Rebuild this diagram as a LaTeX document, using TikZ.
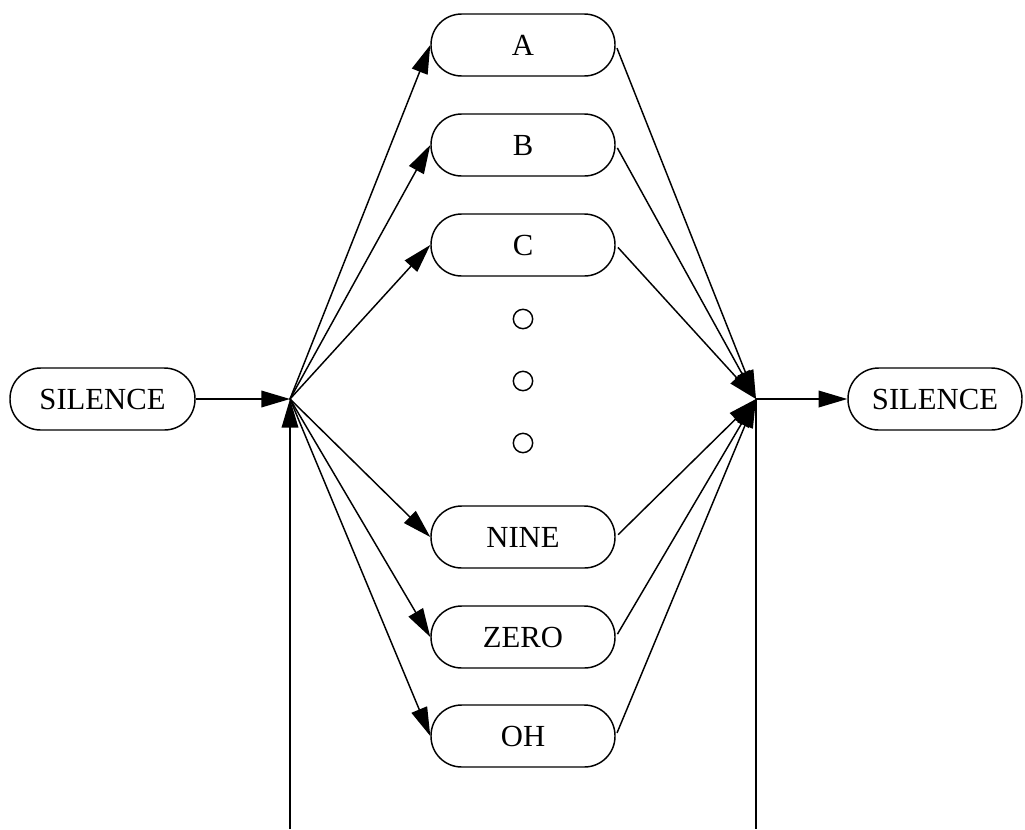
\documentclass[tikz,border=0pt]{standalone}
\usepackage{fontspec}
\setmainfont{Liberation Serif}
\usetikzlibrary{arrows.meta}
\begin{document}
\begin{tikzpicture}[x=0.75pt,y=-0.75pt,
  line width=1.1pt,
  word/.style={draw, rounded corners=23pt, minimum width=138pt, minimum height=46.5pt, inner sep=0pt, font=\fontsize{23}{26}\selectfont},
  dotc/.style={draw, circle, minimum size=14.5pt, inner sep=0pt, line width=1.1pt},
  arr/.style={-{Triangle[length=21.5pt,width=12.5pt]}},
]
\useasboundingbox (0,0) rectangle (1025,829);
\node[word] (A) at (523,45) {A};
\node[word] (B) at (523,145) {B};
\node[word] (C) at (523,245) {C};
\node[word] (NINE) at (523,537) {NINE};
\node[word] (ZERO) at (523,637) {ZERO};
\node[word] (OH) at (523,736) {OH};
\node[dotc] (d1) at (523,319) {};
\node[dotc] (d2) at (523,381) {};
\node[dotc] (d3) at (523,443) {};
\node[word, minimum width=138.75pt] (S1) at (102.5,399) {SILENCE};
\node[word, minimum width=130.5pt] (S2) at (935,399) {SILENCE};
\coordinate (J1) at (290,399);
\coordinate (J2) at (756,399);
\coordinate (B1) at (290,829);
\coordinate (B2) at (756,829);
\draw[arr] (S1.east) -- (J1);
\draw[arr] (B1) -- (J1);
\draw[arr] (J2) -- (S2.west);
\draw (J2) -- (B2);
\foreach \n in {A,B,C,NINE,ZERO,OH}{
  \draw[arr] (J1) -- (\n.west);
  \draw[arr, shorten <=2.5pt] (\n.east) -- (J2);
}
\end{tikzpicture}
\end{document}
